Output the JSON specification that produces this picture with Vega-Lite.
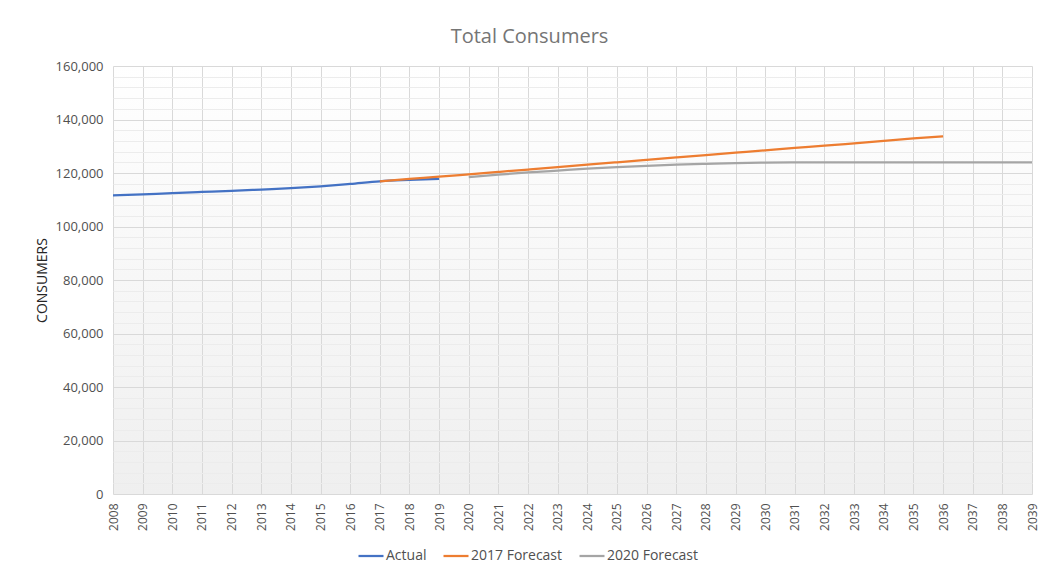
{
  "$schema": "https://vega.github.io/schema/vega-lite/v6.json",
  "width": 919,
  "height": 428,
  "autosize": {"type": "none"},
  "padding": {"left": 113, "top": 66, "right": 9, "bottom": 86},
  "background": "white",
  "title": {"text": "Total Consumers", "fontSize": 20, "font": "Open Sans", "fontWeight": "normal", "color": "#757575", "anchor": "middle", "dx": -43, "offset": 13},
  "data": {"values": [
    {"year": 2008, "series": "Actual", "value": 111600},
    {"year": 2009, "series": "Actual", "value": 112000},
    {"year": 2010, "series": "Actual", "value": 112500},
    {"year": 2011, "series": "Actual", "value": 112900},
    {"year": 2012, "series": "Actual", "value": 113300},
    {"year": 2013, "series": "Actual", "value": 113800},
    {"year": 2014, "series": "Actual", "value": 114300},
    {"year": 2015, "series": "Actual", "value": 115000},
    {"year": 2016, "series": "Actual", "value": 115900},
    {"year": 2017, "series": "Actual", "value": 116900},
    {"year": 2018, "series": "Actual", "value": 117400},
    {"year": 2019, "series": "Actual", "value": 117800},
    {"year": 2017, "series": "2017 Forecast", "value": 116900},
    {"year": 2018, "series": "2017 Forecast", "value": 117800},
    {"year": 2019, "series": "2017 Forecast", "value": 118600},
    {"year": 2020, "series": "2017 Forecast", "value": 119500},
    {"year": 2021, "series": "2017 Forecast", "value": 120400},
    {"year": 2022, "series": "2017 Forecast", "value": 121300},
    {"year": 2023, "series": "2017 Forecast", "value": 122200},
    {"year": 2024, "series": "2017 Forecast", "value": 123100},
    {"year": 2025, "series": "2017 Forecast", "value": 124000},
    {"year": 2026, "series": "2017 Forecast", "value": 124900},
    {"year": 2027, "series": "2017 Forecast", "value": 125800},
    {"year": 2028, "series": "2017 Forecast", "value": 126700},
    {"year": 2029, "series": "2017 Forecast", "value": 127600},
    {"year": 2030, "series": "2017 Forecast", "value": 128500},
    {"year": 2031, "series": "2017 Forecast", "value": 129400},
    {"year": 2032, "series": "2017 Forecast", "value": 130200},
    {"year": 2033, "series": "2017 Forecast", "value": 131100},
    {"year": 2034, "series": "2017 Forecast", "value": 132000},
    {"year": 2035, "series": "2017 Forecast", "value": 132900},
    {"year": 2036, "series": "2017 Forecast", "value": 133700},
    {"year": 2020, "series": "2020 Forecast", "value": 118500},
    {"year": 2021, "series": "2020 Forecast", "value": 119400},
    {"year": 2022, "series": "2020 Forecast", "value": 120200},
    {"year": 2023, "series": "2020 Forecast", "value": 120900},
    {"year": 2024, "series": "2020 Forecast", "value": 121600},
    {"year": 2025, "series": "2020 Forecast", "value": 122200},
    {"year": 2026, "series": "2020 Forecast", "value": 122700},
    {"year": 2027, "series": "2020 Forecast", "value": 123100},
    {"year": 2028, "series": "2020 Forecast", "value": 123400},
    {"year": 2029, "series": "2020 Forecast", "value": 123700},
    {"year": 2030, "series": "2020 Forecast", "value": 123850},
    {"year": 2031, "series": "2020 Forecast", "value": 123950},
    {"year": 2032, "series": "2020 Forecast", "value": 124000},
    {"year": 2033, "series": "2020 Forecast", "value": 124000},
    {"year": 2034, "series": "2020 Forecast", "value": 124000},
    {"year": 2035, "series": "2020 Forecast", "value": 124000},
    {"year": 2036, "series": "2020 Forecast", "value": 124000},
    {"year": 2037, "series": "2020 Forecast", "value": 124000},
    {"year": 2038, "series": "2020 Forecast", "value": 124000},
    {"year": 2039, "series": "2020 Forecast", "value": 124000}
  ]},
  "mark": {"type": "line", "strokeWidth": 2.25, "interpolate": "monotone"},
  "encoding": {
    "x": {
      "field": "year", "type": "quantitative",
      "scale": {"domain": [2008, 2039], "nice": false, "zero": false},
      "axis": {
        "values": [2008,2009,2010,2011,2012,2013,2014,2015,2016,2017,2018,2019,2020,2021,2022,2023,2024,2025,2026,2027,2028,2029,2030,2031,2032,2033,2034,2035,2036,2037,2038,2039],
        "format": "d", "labelAngle": -90, "labelFontSize": 12, "labelColor": "#505050",
        "ticks": false, "domain": false, "grid": true, "gridColor": "#d9d9d9",
        "title": null, "labelPadding": 9, "labelFlush": false, "labelOverlap": false, "labelBound": false
      }
    },
    "y": {
      "field": "value", "type": "quantitative",
      "scale": {"domain": [0, 160000], "nice": false},
      "axis": {
        "values": [0,4000,8000,12000,16000,20000,24000,28000,32000,36000,40000,44000,48000,52000,56000,60000,64000,68000,72000,76000,80000,84000,88000,92000,96000,100000,104000,108000,112000,116000,120000,124000,128000,132000,136000,140000,144000,148000,152000,156000,160000],
        "format": ",.0f",
        "labelExpr": "datum.value % 20000 === 0 ? datum.label : ''",
        "gridColor": {"condition": {"test": "datum.value % 20000 === 0", "value": "#d9d9d9"}, "value": "#ececec"},
        "ticks": false, "domain": false, "labelPadding": 10, "labelFontSize": 13, "labelColor": "#505050",
        "labelOverlap": false, "labelFlush": false,
        "title": "CONSUMERS", "titleFontSize": 14, "titleFontWeight": "normal", "titleColor": "#262626", "titlePadding": 6
      }
    },
    "color": {
      "field": "series", "type": "nominal",
      "scale": {"domain": ["Actual", "2017 Forecast", "2020 Forecast"], "range": ["#4472C4", "#ED7D31", "#A5A5A5"]},
      "legend": {
        "orient": "none", "legendX": 244, "legendY": 476, "direction": "horizontal",
        "title": null, "symbolType": "stroke", "symbolSize": 625, "symbolStrokeWidth": 2.25,
        "labelFontSize": 14, "labelColor": "#505050", "labelOffset": 1, "columnPadding": 12, "padding": 0
      }
    }
  },
  "config": {
    "font": "Open Sans",
    "view": {"stroke": null, "fill": {"expr": "{gradient: 'linear', x1: 0, y1: 0, x2: 0, y2: 1, stops: [{offset: 0, color: '#ffffff'}, {offset: 1, color: '#efefef'}]}"}}
  }
}
